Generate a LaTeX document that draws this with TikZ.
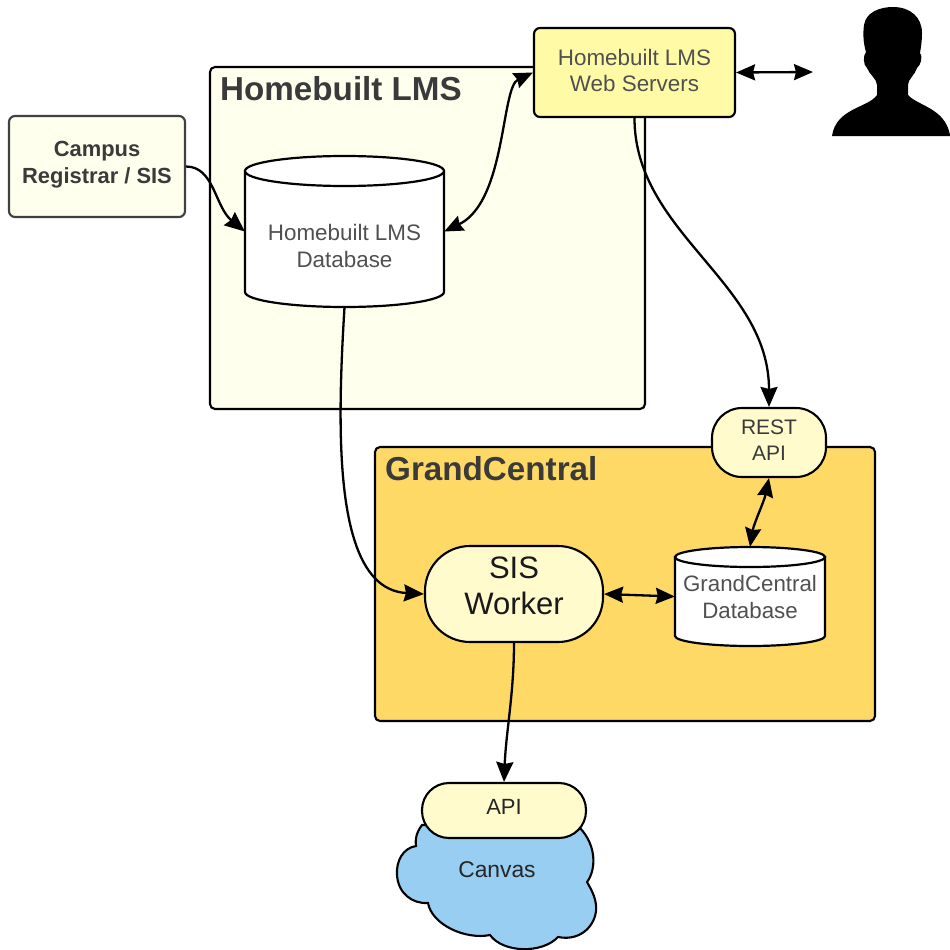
\documentclass[tikz,border=0pt]{standalone}
\usepackage{fontspec}
\setmainfont{Liberation Sans}
\usetikzlibrary{arrows.meta}
\definecolor{paleyellow}{HTML}{FEFFEC}
\definecolor{midyellow}{HTML}{FFFBCC}
\definecolor{brightyellow}{HTML}{FFFAA6}
\definecolor{gcorange}{HTML}{FFD966}
\definecolor{cloudblue}{HTML}{97CEF2}
\definecolor{inktext}{HTML}{3A3A3A}
\definecolor{softtext}{HTML}{505050}
\tikzset{
  box/.style={draw=black,line width=2.1pt,inner sep=0pt,align=center,text=inktext,anchor=center},
  region/.style={box,rounded corners=5pt},
  regiontitle/.style={anchor=west,inner sep=0pt,text=inktext,font=\fontsize{33.2}{38}\selectfont\bfseries},
  cylbody/.style={draw=black,line width=2.2pt,fill=white},
  label/.style={inner sep=0pt,align=center,text=softtext},
  conn/.style={draw=black,line width=2.3pt,-{Stealth[length=20pt,width=17pt,inset=2pt]}},
  biconn/.style={draw=black,line width=2.3pt,{Stealth[length=19pt,width=16pt,inset=2pt]}-{Stealth[length=19pt,width=16pt,inset=2pt]}},
}
% text raised without changing the node's size
\newcommand{\nudge}[2]{\raisebox{#1}[\height][\depth]{\begin{tabular}{@{}c@{}}#2\end{tabular}}}
% #1 left, #2 right, #3 top, #4 bottom, #5 ellipse half-height
\newcommand{\cylshape}[5]{%
  \path[cylbody] (#1,#3+#5) -- (#1,#4-#5)
     .. controls (#1,#4-#5+0.55*#5) and ({#1+0.225*(#2-#1)},#4) .. ({(#1+#2)/2},#4)
     .. controls ({#2-0.225*(#2-#1)},#4) and (#2,#4-#5+0.55*#5) .. (#2,#4-#5)
     -- (#2,#3+#5) -- cycle;
  \path[cylbody] ({(#1+#2)/2},#3+#5) ellipse [x radius={(#2-#1)/2},y radius=#5];
}
\begin{document}
\begin{tikzpicture}[x=1pt,y=-1pt]
\useasboundingbox (0,0) rectangle (950,950);
\fill[white] (0,0) rectangle (950,950);

% Regions
\node[region,fill=paleyellow,minimum width=435pt,minimum height=342pt] (lms) at (427.5,238) {};
\node[regiontitle] (lmstitle) at (220,89) {Homebuilt LMS};
\node[region,fill=gcorange,minimum width=500pt,minimum height=274pt] (gc) at (625,584) {};
\node[regiontitle] (gctitle) at (385,469) {GrandCentral};

% Cloud
\path[draw=black,line width=2.1pt,fill=cloudblue]
  (422,825) .. controls (416,833) and (415,840) .. (416,846)
  .. controls (403,848) and (396,861) .. (397,875)
  .. controls (398,893) and (412,904) .. (428,903)
  .. controls (432,925) and (466,940) .. (490,935)
  .. controls (503,953) and (542,954) .. (558,937)
  .. controls (583,942) and (598,922) .. (596,905)
  .. controls (595,896) and (591,889) .. (587,882)
  .. controls (596,870) and (597,846) .. (580,828) -- cycle;
\node[label,text=black!85,font=\fontsize{22.8}{27}\selectfont] (canvas) at (497,870) {Canvas};

% Boxes
\node[box,rounded corners=6pt,fill=paleyellow,draw=black!75,font=\fontsize{21.9}{27}\selectfont\bfseries,minimum width=176pt,minimum height=101pt] (campus) at (97,166.5) {\nudge{2pt}{Campus\\Registrar / SIS}};
\node[box,rounded corners=6pt,fill=brightyellow,text=softtext,font=\fontsize{22.4}{26}\selectfont,minimum width=201pt,minimum height=89pt] (web) at (634.5,72.5) {\nudge{-1pt}{Homebuilt LMS\\Web Servers}};
\node[box,rounded corners=30pt,fill=midyellow,font=\fontsize{21}{26}\selectfont,minimum width=114pt,minimum height=69pt] (rest) at (769,442.5) {\nudge{0pt}{REST\\API}};
\node[box,rounded corners=45pt,fill=midyellow,text=black!90,font=\fontsize{31}{36}\selectfont,minimum width=178pt,minimum height=96pt] (worker) at (514,594) {\nudge{5pt}{SIS\\Worker}};
\node[box,rounded corners=27pt,fill=midyellow,text=black!85,font=\fontsize{22}{26}\selectfont,minimum width=164pt,minimum height=55pt] (api) at (504,810.5) {\nudge{1pt}{API}};

% Databases
\cylshape{245}{444}{156}{307}{15}
\node[inner sep=0pt,minimum width=199pt,minimum height=151pt] (lmsdb) at (344.5,231.5) {};
\node[label,font=\fontsize{22.4}{27}\selectfont] (lmsdbtext) at (344.5,245.5) {Homebuilt LMS\\Database};
\cylshape{675}{825}{547}{646}{10}
\node[inner sep=0pt,minimum width=150pt,minimum height=99pt] (gcdb) at (750,596.5) {};
\node[label,font=\fontsize{22.3}{27}\selectfont] (gcdbtext) at (750,597.5) {GrandCentral\\Database};

% Person
\path[fill=black] (893,7)
  .. controls (910,7) and (922,17) .. (922,33)
  .. controls (922,41) and (921,47) .. (920,53)
  .. controls (923,56) and (921,65) .. (917,68)
  .. controls (915,75) and (908,79) .. (908,85)
  -- (908,95)
  .. controls (918,106) and (945,108) .. (950,135)
  -- (950,136) -- (832,136)
  .. controls (836,108) and (868,108) .. (877,95)
  -- (877,85)
  .. controls (877,79) and (869,74) .. (867,68)
  .. controls (863,65) and (863,55) .. (866,52)
  .. controls (863,42) and (863,33) .. (864,25)
  .. controls (866,12) and (880,7) .. (893,7) -- cycle;
\coordinate (userport) at (813,72);

% Connectors
\draw[conn] (campus.east) .. controls +(28,0) and +(-30,-25) .. (lmsdb.west);
\draw[biconn] (lmsdb.east) .. controls +(62,-30) and +(-32,15) .. (web.west);
\draw[biconn] (web.east) -- (userport);
\draw[conn] (web.south) .. controls +(0,115) and +(0,-125) .. (rest.north);
\draw[conn] (lmsdb.south) .. controls +(-8,130) and +(-90,-5) .. (worker.west);
\draw[biconn] (worker.east) -- (gcdb.west);
\draw[biconn] (rest.south) .. controls +(-5,24) and +(4,-24) .. (gcdb.north);
\draw[conn] (worker.south) .. controls +(0,50) and +(2,-50) .. (api.north);
\end{tikzpicture}
\end{document}
